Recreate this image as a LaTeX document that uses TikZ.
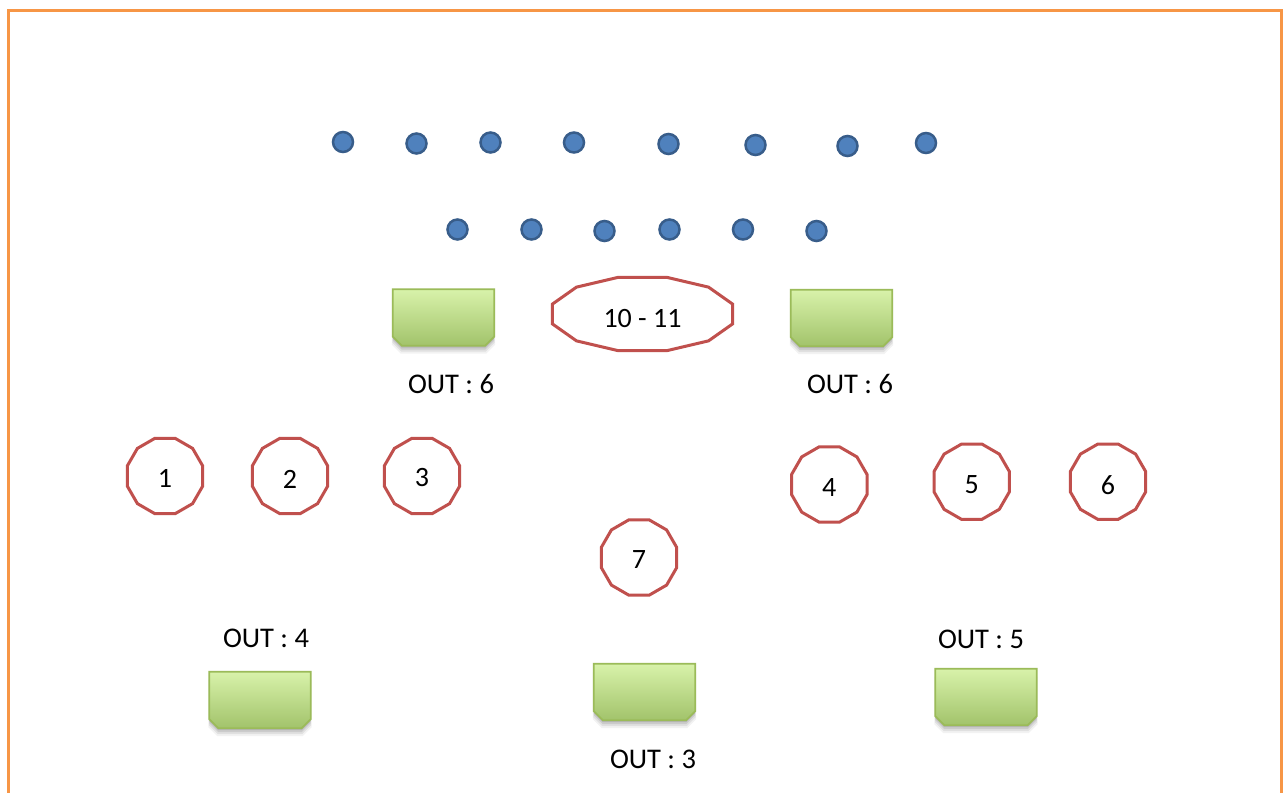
\documentclass[tikz,border=0pt]{standalone}
\usepackage{fontspec}
\setmainfont{Carlito}
\usetikzlibrary{calc}
\definecolor{frameor}{HTML}{F79646}
\definecolor{dotfill}{HTML}{4F81BD}
\definecolor{dotline}{HTML}{385D8A}
\definecolor{redline}{HTML}{C0504D}
\definecolor{gtop}{HTML}{D8F2AA}
\definecolor{gbot}{HTML}{A2C36B}
\definecolor{gline}{HTML}{9BBB59}
\tikzset{
  dot/.style={circle, fill=dotfill, draw=dotline, line width=2.5pt, minimum size=20pt, inner sep=0pt},
  polybox/.style={minimum width=75pt, minimum height=75pt, inner sep=0pt, font=\fontsize{28}{32}\selectfont},
  dodecline/.style={draw=redline, line width=3pt, line join=miter, fill=white},
  snipbox/.style={minimum width=101pt, minimum height=56pt, inner sep=0pt},
  sniplines/.style={draw=gline, line width=1.8pt, top color=gtop, bottom color=gbot},
  outlabel/.style={anchor=base, inner sep=0pt, font=\fontsize{28.5}{32}\selectfont},
}
\newcommand\pp[2]{({\x1+#1*(\x2-\x1)},{\y1+#2*(\y2-\y1)})}
\newcommand\dodec[1]{%
  \path[dodecline] let \p1=(#1.south west), \p2=(#1.north east) in
    \pp{0.366}{0} -- \pp{0.634}{0} -- \pp{0.866}{0.134} -- \pp{1}{0.366} --
    \pp{1}{0.634} -- \pp{0.866}{0.866} -- \pp{0.634}{1} -- \pp{0.366}{1} --
    \pp{0.134}{0.866} -- \pp{0}{0.634} -- \pp{0}{0.366} -- \pp{0.134}{0.134} -- cycle;}
% #1 node, #2 downward offset, #3 extra half-width
\newcommand\snippath[3]{let \p1=(#1.south west), \p2=(#1.north east) in
    ({\x1-#3},{\y2-#2}) -- ({\x2+#3},{\y2-#2}) -- ({\x2+#3},{\y1+9pt-#2}) -- ({\x2-9pt+#3},{\y1-#2}) -- ({\x1+9pt-#3},{\y1-#2}) -- ({\x1-#3},{\y1+9pt-#2}) -- cycle}
\newcommand\snip[1]{%
  \fill[black, opacity=0.05] \snippath{#1}{8pt}{1pt};
  \fill[black, opacity=0.07] \snippath{#1}{6pt}{0.5pt};
  \fill[black, opacity=0.09] \snippath{#1}{4pt}{0pt};
  \fill[black, opacity=0.10] \snippath{#1}{2pt}{0pt};
  \path[sniplines] \snippath{#1}{0pt}{0pt};}
\begin{document}
\begin{tikzpicture}[x=1pt, y=-1pt]
\useasboundingbox (0,0) rectangle (1287,792);
\fill[white] (0,0) rectangle (1287,792);
\draw[frameor, line width=3pt] (8.7,810) -- (8.7,10.7) -- (1281.7,10.7) -- (1281.7,810);

% dots, upper row
\node[dot] (d1) at (343,142) {};
\node[dot] (d2) at (416.5,143.5) {};
\node[dot] (d3) at (490.5,142.5) {};
\node[dot] (d4) at (574,142.5) {};
\node[dot] (d5) at (668.5,144) {};
\node[dot] (d6) at (755.5,145) {};
\node[dot] (d7) at (847.5,146) {};
\node[dot] (d8) at (926,143) {};
% dots, lower row
\node[dot] (e1) at (457.5,229.5) {};
\node[dot] (e2) at (531.5,229.5) {};
\node[dot] (e3) at (604.5,231) {};
\node[dot] (e4) at (669.5,229.5) {};
\node[dot] (e5) at (743,229.5) {};
\node[dot] (e6) at (816.5,231) {};

% green boxes
\node[snipbox] (b1) at (443.5,317.5) {};
\node[snipbox] (b2) at (841.5,318) {};
\node[snipbox] (b3) at (260,700) {};
\node[snipbox] (b4) at (644.5,692) {};
\node[snipbox] (b5) at (986,697) {};
\snip{b1}\snip{b2}\snip{b3}\snip{b4}\snip{b5}

% dodecagons
\node[polybox, minimum width=180pt, minimum height=73pt] (p10) at (642.5,314) {};
\node[polybox] (p1) at (165,476) {};
\node[polybox] (p2) at (290,476) {};
\node[polybox] (p3) at (422,476) {};
\node[polybox] (p4) at (829.3,484.5) {};
\node[polybox] (p5) at (971.7,481.7) {};
\node[polybox] (p6) at (1108,481.7) {};
\node[polybox] (p7) at (639,557.5) {};
\dodec{p10}\dodec{p1}\dodec{p2}\dodec{p3}\dodec{p4}\dodec{p5}\dodec{p6}\dodec{p7}
\node[polybox] at ([yshift=-4.5pt]p10) {10 - 11};
\node[polybox] at ([yshift=-2pt]p1) {1};
\node[polybox] at ([yshift=-3pt]p2) {2};
\node[polybox] at ([yshift=-2pt]p3) {3};
\node[polybox] at ([yshift=-3pt]p4) {4};
\node[polybox] at ([yshift=-3pt]p5) {5};
\node[polybox] at ([yshift=-3pt]p6) {6};
\node[polybox] at ([yshift=-2pt]p7) {7};

% labels
\node[outlabel] (l1) at (451,393) {OUT : 6};
\node[outlabel] (l2) at (850,393) {OUT : 6};
\node[outlabel] (l3) at (266,647) {OUT : 4};
\node[outlabel] (l4) at (981,648) {OUT : 5};
\node[outlabel] (l5) at (653,768) {OUT : 3};
\end{tikzpicture}
\end{document}
